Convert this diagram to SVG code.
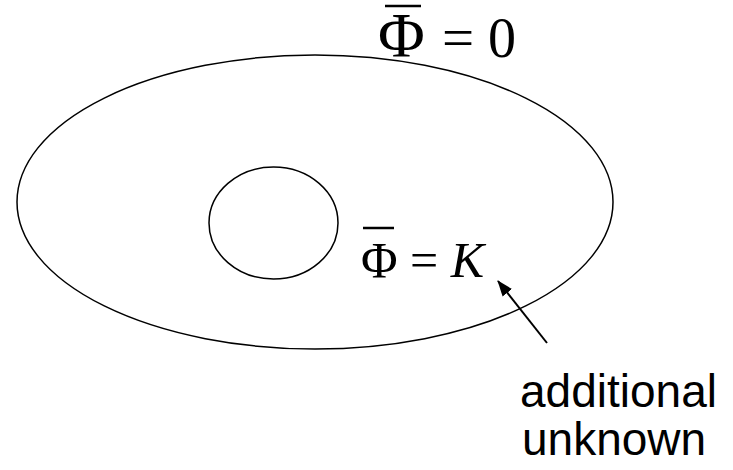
<svg xmlns="http://www.w3.org/2000/svg" width="733" height="470" viewBox="0 0 733 470">
<style>
.shape{fill:none;stroke:#000;stroke-width:1.5}
.math{font-family:"Liberation Serif","Times New Roman",serif;fill:#000}
.lbl{font-family:"Liberation Sans",Arial,sans-serif;fill:#000;font-size:46px}
.bar{stroke:#000;stroke-width:2.5}
</style>
<defs>
<marker id="ah" markerWidth="16" markerHeight="14" refX="15" refY="7" orient="auto" markerUnits="userSpaceOnUse" viewBox="0 0 16 14">
<path d="M0,1 L16,7 L0,13 z" fill="#000"/>
</marker>
</defs>
<g id="outer"><ellipse class="shape" cx="315" cy="202" rx="298" ry="147"/></g>
<g id="inner"><ellipse class="shape" cx="273.5" cy="223" rx="64.5" ry="56"/></g>
<g id="top-label">
<line class="bar" x1="385" y1="6" x2="421" y2="6"/>
<text class="math" y="57"><tspan x="378" font-size="64">Φ</tspan><tspan x="442" font-size="57">=</tspan><tspan x="488" font-size="56">0</tspan></text>
</g>
<g id="inner-label">
<line class="bar" x1="363" y1="228" x2="394" y2="228"/>
<text class="math" x="361" y="277" font-size="50">Φ = <tspan font-style="italic">K</tspan></text>
</g>
<g id="note">
<text class="lbl" x="520" y="407">additional</text>
<text class="lbl" x="522" y="455">unknown</text>
</g>
<g id="connectors">
<line class="shape" x1="547" y1="343" x2="498" y2="281" marker-end="url(#ah)" style="stroke-width:2"/>
</g>
</svg>
